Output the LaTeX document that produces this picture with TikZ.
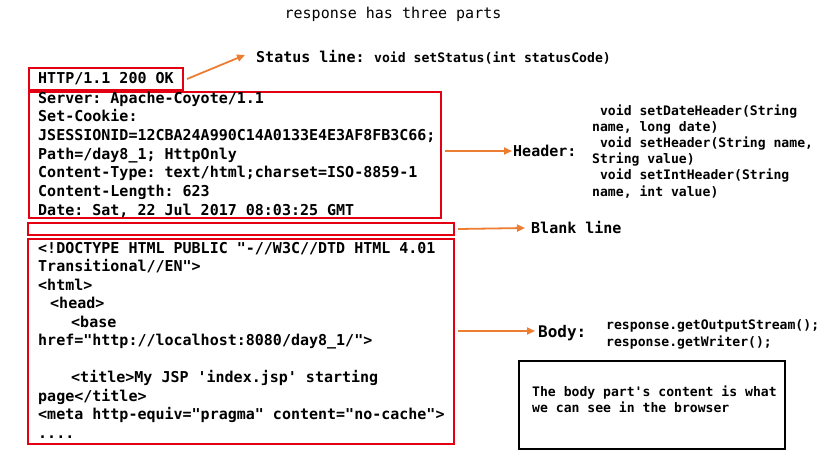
\documentclass[tikz,border=0pt]{standalone}
\usepackage{fontspec}
\newfontfamily\mono{DejaVu Sans Mono}
\usetikzlibrary{arrows.meta}
\frenchspacing
\definecolor{boxred}{RGB}{226,0,18}
\definecolor{arrow}{RGB}{237,125,49}
\tikzset{
  redbox/.style={draw=boxred, line width=2pt, rectangle, inner sep=0pt, anchor=north west},
  blackbox/.style={draw=black, line width=1.6pt, rectangle, inner sep=0pt, anchor=north west},
  orarrow/.style={draw=arrow, line width=1.8pt, -{Triangle[length=8pt,width=7pt]}},
  big/.style={font={\mono\bfseries\frenchspacing\fontsize{15}{18.6}\selectfont}, inner sep=0pt, anchor=base west, align=left},
  small/.style={font={\mono\bfseries\frenchspacing\fontsize{13.1}{16.2}\selectfont}, inner sep=0pt, anchor=base west, align=left},
}
\begin{document}
\begin{tikzpicture}[x=1pt,y=-1pt]
\useasboundingbox[fill=white] (0,0) rectangle (826,461);
% title
\node[font={\mono\fontsize{15}{18}\selectfont}, inner sep=0pt, anchor=base] (title) at (393,18) {response has three parts};
% status line
\node[redbox, minimum width=154pt, minimum height=22pt] (statusbox) at (28,67) {};
\node[big] (statustext) at (38,83) {HTTP/1.1 200 OK};
\coordinate (statustip) at (245,55);
\draw[orarrow] ([xshift=3pt]statusbox.east) -- (statustip);
\node[big] (statuslabel) at (256,62) {Status line:};
\node[small] (statusapi) at (374,62) {void setStatus(int statusCode)};
% header (base anchor = last line when align is used without text width)
\node[redbox, minimum width=412pt, minimum height=126pt] (hdrbox) at (28,91) {};
\node[big, font={\mono\bfseries\frenchspacing\fontsize{15}{18.7}\selectfont}] (hdrtext) at (38,215.2) {Server: Apache-Coyote/1.1\\
Set-Cookie:\\
JSESSIONID=12CBA24A990C14A0133E4E3AF8FB3C66;\\
Path=/day8\_1; HttpOnly\\
Content-Type: text/html;charset=ISO-8859-1\\
Content-Length: 623\\
Date: Sat, 22 Jul 2017 08:03:25 GMT};
\coordinate (hdrtip) at (512,151);
\draw[orarrow] ([xshift=3pt]hdrbox.east |- hdrtip) -- (hdrtip);
\node[big] (hdrlabel) at (513,156) {Header:};
\node[small] (hdrapi) at (592,196) {\hspace*{7.9pt}void setDateHeader(String\\
name, long date)\\
\hspace*{7.9pt}void setHeader(String name,\\
String value)\\
\hspace*{7.9pt}void setIntHeader(String\\
name, int value)};
% blank line
\node[redbox, minimum width=426pt, minimum height=12pt] (blankbox) at (27,222) {};
\coordinate (blanktip) at (525,228);
\draw[orarrow] ([xshift=3pt]blankbox.east) -- (blanktip);
\node[big] (blanklabel) at (531,233) {Blank line};
% body
\node[redbox, minimum width=426pt, minimum height=205pt] (bodybox) at (27,238) {};
\node[big, font={\mono\bfseries\frenchspacing\fontsize{15}{18.5}\selectfont}] (bodytext) at (38,438) {<!DOCTYPE HTML PUBLIC "-//W3C//DTD HTML 4.01\\
Transitional//EN">\\
<html>\\
\hspace*{12pt}<head>\\
\hspace*{33pt}<base\\
href="http://localhost:8080/day8\_1/">\\
\mbox{}\\
\hspace*{33pt}<title>My JSP 'index.jsp' starting\\
page</title>\\
<meta http-equiv="pragma" content="no-cache">\\
....};
\coordinate (bodytip) at (535,331);
\draw[orarrow] ([xshift=3pt]bodybox.east |- bodytip) -- (bodytip);
\node[big, font={\mono\bfseries\frenchspacing\fontsize{16}{18}\selectfont}] (bodylabel) at (538,337) {Body:};
\node[small, font={\mono\bfseries\frenchspacing\fontsize{13.1}{17}\selectfont}] (bodyapi) at (606,346) {response.getOutputStream();\\
response.getWriter();};
% note
\node[blackbox, minimum width=266pt, minimum height=88pt] (notebox) at (518,360) {};
\node[small, font={\mono\bfseries\frenchspacing\fontsize{13.1}{16}\selectfont}] (notetext) at (532,412) {The body part's content is what\\
we can see in the browser};
\end{tikzpicture}
\end{document}
